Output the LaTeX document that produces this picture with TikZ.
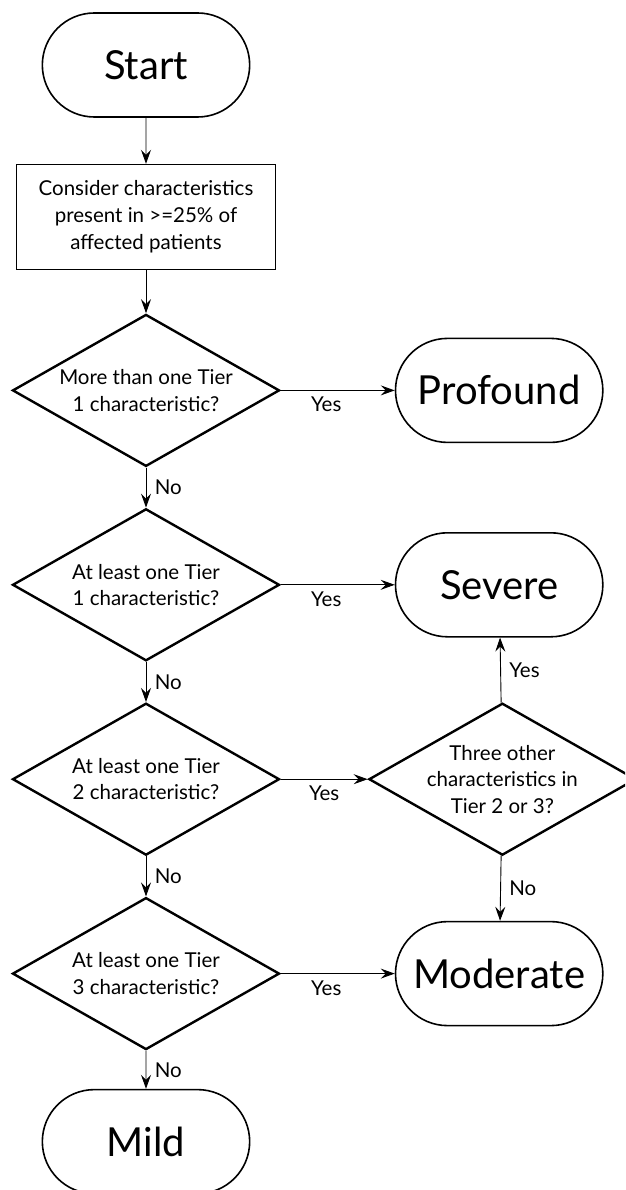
\documentclass[tikz,border=0pt]{standalone}
\usepackage{fontspec}
\setmainfont{Lato}
\usetikzlibrary{shapes.geometric, shapes.misc, arrows.meta, positioning}

\begin{document}
\begin{tikzpicture}[x=1pt, y=-1pt,
  node distance=40pt and 114pt,
  term/.style={rounded rectangle, draw, line width=1.6pt,
               minimum width=214pt, minimum height=104pt,
               font=\fontsize{40}{48}\selectfont},
  proc/.style={rectangle, draw, line width=1.4pt,
               minimum width=259pt, minimum height=105pt,
               align=center, font=\fontsize{20.5}{27}\selectfont},
  dec/.style={diamond, draw, line width=2.4pt, aspect=1.76, inner sep=-4pt,
              minimum width=267pt, minimum height=152pt,
              align=center, font=\fontsize{20.5}{26.5}\selectfont},
  arr/.style={-{Stealth[length=14pt, width=10pt, inset=5pt]}, line width=0.9pt},
  lbl/.style={font=\fontsize{20.5}{24}\selectfont},
]
  \useasboundingbox (0,0) rectangle (625,1190);
  \clip (0,0) rectangle (625,1190);

  % Main column
  \node[term] (start) at (146,65) {Start};
  \node[proc, below=46pt of start] (consider) {Consider characteristics\\present in >=25\% of\\affected patients};
  \node[dec, below=43pt of consider] (d1) {More than one Tier\\1 characteristic?};
  \node[dec, below=of d1] (d2) {At least one Tier\\1 characteristic?};
  \node[dec, below=of d2] (d3) {At least one Tier\\2 characteristic?};
  \node[dec, below=of d3] (d5) {At least one Tier\\3 characteristic?};
  \node[term, below=38pt of d5] (mild) {Mild};

  % Outcome column
  \node[term, right=of d1] (profound) {Profound};
  \node[term, right=of d2] (severe) {Severe};
  \node[dec, right=87pt of d3] (d4) {Three other\\characteristics in\\Tier 2 or 3?};
  \node[term, right=of d5] (moderate) {Moderate};

  % Connectors
  \draw[arr] (start) -- (consider);
  \draw[arr] (consider) -- (d1);
  \draw[arr] (d1) -- node[lbl, right=5pt] {No} (d2);
  \draw[arr] (d2) -- node[lbl, right=5pt] {No} (d3);
  \draw[arr] (d3) -- node[lbl, right=5pt] {No} (d5);
  \draw[arr] (d5) -- node[lbl, right=5pt] {No} (mild);
  \draw[arr] (d1) -- node[lbl, below=3pt, pos=0.4] {Yes} (profound);
  \draw[arr] (d2) -- node[lbl, below=3pt, pos=0.4] {Yes} (severe);
  \draw[arr] (d3) -- node[lbl, below=3pt] {Yes} (d4);
  \draw[arr] (d5) -- node[lbl, below=3pt, pos=0.4] {Yes} (moderate);
  \draw[arr] (d4) -- node[lbl, right=5pt] {Yes} (severe);
  \draw[arr] (d4) -- node[lbl, right=5pt] {No} (moderate);
\end{tikzpicture}
\end{document}
